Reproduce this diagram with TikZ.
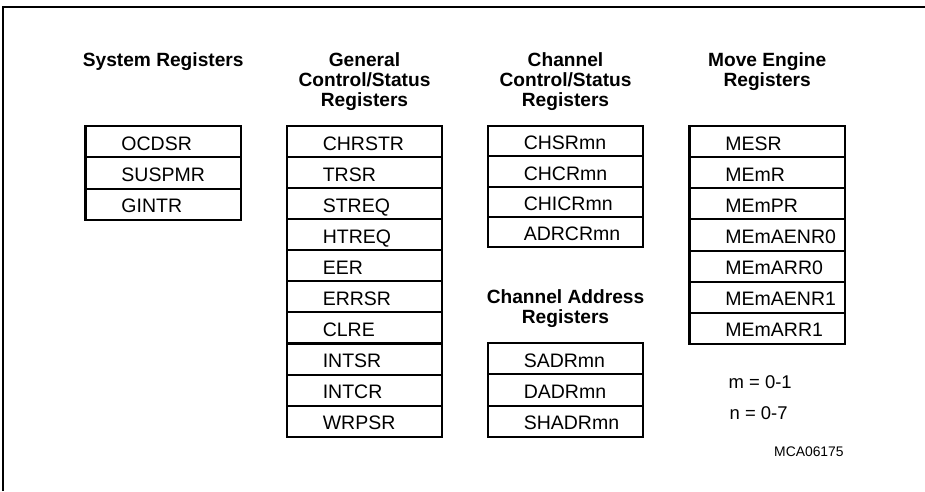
\documentclass[tikz,border=0pt]{standalone}
\usepackage{fontspec}
\setmainfont{Liberation Sans}
\usetikzlibrary{positioning}

\begin{document}
\begin{tikzpicture}[x=0.02cm, y=-0.02cm]
    \tikzstyle{head}=[font=\fontsize{10.9}{11.4}\selectfont\bfseries, align=center, anchor=base, inner sep=0pt]
    \tikzstyle{regrow}=[draw, line width=1.2pt, outer sep=0pt, inner xsep=0pt, inner ysep=0pt, minimum width=3.11cm, text width=3.11cm, align=left, text height=9.7pt, text depth=0pt, font=\fontsize{11.1}{13}\selectfont, execute at begin node={\hspace*{0.72cm}}]
    \tikzstyle{note}=[font=\fontsize{10.5}{12}\selectfont, anchor=base west, inner sep=0pt]

    \useasboundingbox (0,0) rectangle (925,491);
    \draw[line width=1.2pt] (3,491) |- (925,7);

    \node[head] (syshead) at (163.2,66.7) {System Registers};
    \node[head] (genhead) at (364.5,106.7) {General\\Control/Status\\Registers};
    \node[head] (chhead) at (565.5,106.7) {Channel\\Control/Status\\Registers};
    \node[head] (mehead) at (767.2,86.7) {Move Engine\\Registers};
    \node[head] (adhead) at (565.5,323.3) {Channel Address\\Registers};

    \foreach \reg [count=\i] in {OCDSR,SUSPMR,GINTR}
        \node[regrow, minimum height=0.6266cm] (sys\i) at (163.2,{126+31.33*(\i-0.5)}) {\reg};
    \foreach \reg [count=\i] in {CHRSTR,TRSR,STREQ,HTREQ,EER,ERRSR,CLRE,INTSR,INTCR,WRPSR}
        \node[regrow, minimum height=0.6214cm] (gen\i) at (364.5,{126+31.07*(\i-0.5)}) {\reg};
    \foreach \reg [count=\i] in {CHSRmn,CHCRmn,CHICRmn,ADRCRmn}
        \node[regrow, minimum height=0.6066cm] (ch\i) at (565.5,{126+30.33*(\i-0.5)}) {\reg};
    \foreach \reg [count=\i] in {MESR,MEmR,MEmPR,MEmAENR0,MEmARR0,MEmAENR1,MEmARR1}
        \node[regrow, minimum height=0.6228cm] (me\i) at (767.2,{126+31.14*(\i-0.5)}) {\reg};
    \foreach \reg [count=\i] in {SADRmn,DADRmn,SHADRmn}
        \node[regrow, minimum height=0.6226cm] (ad\i) at (565.5,{343.3+31.13*(\i-0.5)}) {\reg};

    \node[note] (mrange) at (728.3,388.3) {m = 0-1};
    \node[note] (nrange) at (729.3,419.3) {n = 0-7};
    \node[font=\fontsize{7.9}{9}\selectfont, anchor=base east, inner sep=0pt] (figid) at (844,456) {MCA06175};
\end{tikzpicture}
\end{document}
